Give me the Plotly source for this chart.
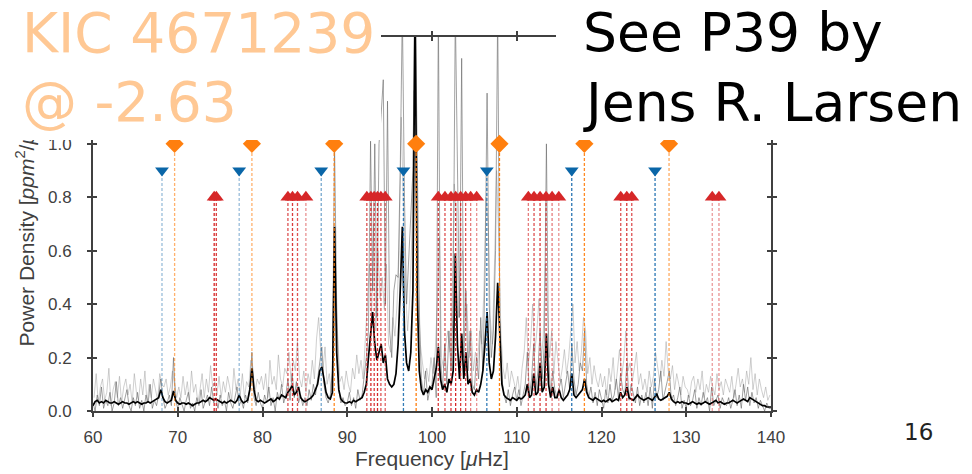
import numpy as np
import plotly.graph_objects as go

# ---------------- data ----------------
# raw power spectrum, sampled every 0.25 muHz from 60 to 140
raw_power = [
    0.03, 0.00, 0.06, 0.02, 0.09, 0.01, 0.04, 0.02, 0.07, 0.00, 0.03, 0.11, 0.02, 0.05, 0.01, 0.04, 0.08, 0.02, 0.00, 0.05,
    0.02, 0.07, 0.01, 0.04, 0.00, 0.06, 0.03, 0.10, 0.01, 0.04, 0.02, 0.06, 0.12, 0.05, 0.01, 0.03, 0.06, 0.02, 0.20, 0.04,
    0.01, 0.05, 0.02, 0.00, 0.04, 0.07, 0.01, 0.03, 0.00, 0.05, 0.02, 0.08, 0.01, 0.04, 0.06, 0.02, 0.09, 0.03, 0.05, 0.01,
    0.06, 0.02, 0.04, 0.00, 0.07, 0.03, 0.01, 0.05, 0.09, 0.02, 0.04, 0.01, 0.06, 0.03, 0.08, 0.22, 0.05, 0.02, 0.07, 0.03,
    0.01, 0.06, 0.03, 0.09, 0.02, 0.05, 0.00, 0.07, 0.04, 0.10, 0.03, 0.06, 0.12, 0.04, 0.14, 0.05, 0.11, 0.03, 0.06, 0.02,
    0.05, 0.02, 0.08, 0.04, 0.10, 0.06, 0.12, 0.20, 0.24, 0.10, 0.05, 0.03, 0.06, 0.15, 1.00, 0.40, 0.08, 0.03, 0.05, 0.02,
    0.03, 0.07, 0.02, 0.05, 0.01, 0.08, 0.04, 0.06, 0.12, 0.20, 0.30, 1.01, 0.45, 1.00, 0.35, 1.00, 1.11, 1.24, 0.40, 1.16,
    0.30, 0.20, 0.45, 0.51, 0.50, 0.90, 1.50, 0.80, 0.40, 0.55, 0.70, 0.90, 1.60, 0.90, 0.35, 0.12, 0.06, 0.15, 0.04, 0.08,
    0.10, 0.20, 0.05, 1.50, 0.20, 0.08, 0.25, 0.10, 0.30, 0.15, 0.40, 1.50, 0.85, 0.35, 1.32, 0.20, 0.45, 0.15, 0.30, 0.10,
    0.08, 0.20, 0.12, 0.35, 0.15, 0.50, 1.19, 0.40, 0.20, 0.30, 0.60, 1.50, 0.35, 0.12, 0.06, 0.03, 0.08, 0.02, 0.06, 0.09,
    0.04, 0.08, 0.02, 0.06, 0.10, 0.22, 0.06, 0.12, 0.25, 0.08, 0.15, 0.30, 0.12, 0.25, 1.00, 0.20, 0.06, 0.15, 0.08, 0.05,
    0.09, 0.12, 0.05, 0.10, 0.15, 0.08, 0.25, 0.12, 0.06, 0.10, 0.18, 0.15, 0.30, 0.10, 0.05, 0.09, 0.03, 0.07, 0.02, 0.08,
    0.05, 0.01, 0.08, 0.03, 0.10, 0.04, 0.06, 0.12, 0.05, 0.14, 0.08, 0.06, 0.18, 0.04, 0.10, 0.07, 0.03, 0.09, 0.02, 0.06,
    0.03, 0.07, 0.02, 0.09, 0.01, 0.12, 0.05, 0.08, 0.15, 0.04, 0.07, 0.11, 0.15, 0.04, 0.06, 0.02, 0.05, 0.09, 0.01, 0.04,
    0.01, 0.06, 0.02, 0.04, 0.08, 0.01, 0.05, 0.02, 0.07, 0.03, 0.05, 0.00, 0.09, 0.02, 0.04, 0.06, 0.01, 0.05, 0.03, 0.02,
    0.05, 0.01, 0.04, 0.08, 0.02, 0.06, 0.01, 0.10, 0.04, 0.09, 0.02, 0.07, 0.03, 0.05, 0.01, 0.04, 0.02, 0.00, 0.03, 0.01,
    0.01,
]

# second (interleaved) raw spectrum, sampled every 0.25 muHz from 60.125 to 139.875
raw_power_b = [
    0.05, 0.14, 0.03, 0.09, 0.12, 0.04, 0.07, 0.16, 0.02, 0.08, 0.11, 0.05, 0.13, 0.03, 0.09, 0.12, 0.06, 0.10, 0.03, 0.14,
    0.07, 0.04, 0.12, 0.06, 0.15, 0.03, 0.10, 0.05, 0.12, 0.08, 0.04, 0.14, 0.10, 0.09, 0.12, 0.06, 0.09, 0.15, 0.10, 0.05,
    0.09, 0.05, 0.13, 0.06, 0.11, 0.04, 0.15, 0.07, 0.10, 0.03, 0.08, 0.14, 0.05, 0.12, 0.07, 0.17, 0.09, 0.11, 0.06, 0.13,
    0.05, 0.11, 0.07, 0.13, 0.09, 0.04, 0.16, 0.08, 0.12, 0.06, 0.14, 0.05, 0.11, 0.09, 0.19, 0.15, 0.07, 0.12, 0.10, 0.13,
    0.08, 0.14, 0.05, 0.19, 0.10, 0.13, 0.08, 0.21, 0.12, 0.09, 0.16, 0.14, 0.22, 0.11, 0.19, 0.15, 0.26, 0.12, 0.09, 0.15,
    0.07, 0.14, 0.10, 0.19, 0.12, 0.27, 0.35, 0.22, 0.15, 0.24, 0.10, 0.14, 0.07, 0.20, 0.45, 0.30, 0.11, 0.13, 0.08, 0.15,
    0.10, 0.07, 0.16, 0.12, 0.21, 0.14, 0.19, 0.12, 0.28, 0.40, 0.55, 0.35, 0.70, 0.30, 0.60, 0.42, 0.50, 0.38, 0.55, 0.25,
    0.22, 0.35, 0.28, 0.40, 0.60, 1.10, 0.75, 0.45, 0.30, 0.42, 0.65, 1.20, 0.80, 0.50, 0.25, 0.18, 0.12, 0.16, 0.11, 0.20,
    0.14, 0.22, 0.40, 0.65, 0.20, 0.16, 0.25, 0.30, 0.22, 0.40, 0.85, 0.75, 0.35, 0.55, 0.60, 0.35, 0.40, 0.20, 0.30, 0.15,
    0.22, 0.18, 0.30, 0.25, 0.45, 0.80, 0.70, 0.35, 0.25, 0.55, 0.90, 0.65, 0.30, 0.16, 0.12, 0.18, 0.09, 0.15, 0.11, 0.08,
    0.13, 0.06, 0.16, 0.22, 0.35, 0.18, 0.25, 0.40, 0.22, 0.30, 0.42, 0.18, 0.28, 0.55, 0.38, 0.20, 0.30, 0.14, 0.26, 0.18,
    0.11, 0.16, 0.23, 0.14, 0.20, 0.30, 0.40, 0.18, 0.26, 0.15, 0.22, 0.35, 0.30, 0.14, 0.20, 0.10, 0.17, 0.12, 0.09, 0.14,
    0.09, 0.13, 0.06, 0.16, 0.11, 0.20, 0.08, 0.15, 0.23, 0.13, 0.19, 0.30, 0.15, 0.18, 0.11, 0.16, 0.22, 0.10, 0.14, 0.08,
    0.12, 0.07, 0.15, 0.09, 0.13, 0.22, 0.17, 0.11, 0.19, 0.13, 0.26, 0.15, 0.12, 0.17, 0.08, 0.14, 0.10, 0.06, 0.13, 0.09,
    0.08, 0.05, 0.11, 0.13, 0.07, 0.12, 0.08, 0.15, 0.05, 0.10, 0.07, 0.13, 0.09, 0.06, 0.14, 0.08, 0.11, 0.06, 0.12, 0.09,
    0.07, 0.13, 0.05, 0.10, 0.16, 0.09, 0.12, 0.07, 0.15, 0.10, 0.20, 0.08, 0.14, 0.06, 0.12, 0.08, 0.05, 0.09, 0.04, 0.06,
]

# smoothed power spectrum, same grid as raw_power
smooth_power = [
    0.02, 0.035, 0.04, 0.03, 0.035, 0.03, 0.04, 0.035, 0.03, 0.03, 0.035, 0.03, 0.025, 0.03, 0.035, 0.03, 0.03, 0.025, 0.03, 0.035,
    0.03, 0.035, 0.03, 0.025, 0.03, 0.03, 0.035, 0.03, 0.035, 0.04, 0.045, 0.05, 0.08, 0.05, 0.035, 0.03, 0.035, 0.04, 0.075, 0.04,
    0.03, 0.025, 0.03, 0.03, 0.025, 0.03, 0.025, 0.02, 0.025, 0.03, 0.03, 0.035, 0.04, 0.035, 0.04, 0.05, 0.045, 0.04, 0.045, 0.04,
    0.035, 0.03, 0.035, 0.03, 0.035, 0.04, 0.035, 0.03, 0.04, 0.06, 0.04, 0.03, 0.035, 0.04, 0.08, 0.16, 0.08, 0.04, 0.035, 0.04,
    0.035, 0.03, 0.035, 0.04, 0.045, 0.035, 0.04, 0.05, 0.045, 0.06, 0.055, 0.05, 0.07, 0.08, 0.095, 0.06, 0.07, 0.09, 0.05, 0.04,
    0.035, 0.04, 0.045, 0.05, 0.06, 0.08, 0.10, 0.15, 0.165, 0.12, 0.07, 0.05, 0.045, 0.07, 0.69, 0.22, 0.08, 0.045, 0.035, 0.03,
    0.03, 0.035, 0.03, 0.04, 0.035, 0.04, 0.045, 0.05, 0.07, 0.10, 0.20, 0.30, 0.37, 0.25, 0.19, 0.22, 0.25, 0.18, 0.21, 0.12,
    0.10, 0.09, 0.10, 0.14, 0.25, 0.45, 0.69, 0.30, 0.18, 0.15, 0.22, 0.45, 1.55, 0.45, 0.15, 0.08, 0.06, 0.08, 0.07, 0.09,
    0.08, 0.12, 0.16, 0.24, 0.12, 0.08, 0.10, 0.07, 0.12, 0.10, 0.15, 0.59, 0.25, 0.12, 0.29, 0.12, 0.22, 0.10, 0.12, 0.07,
    0.06, 0.08, 0.07, 0.10, 0.15, 0.25, 0.37, 0.18, 0.12, 0.15, 0.28, 0.48, 0.30, 0.10, 0.06, 0.05, 0.045, 0.04, 0.05, 0.045,
    0.04, 0.05, 0.045, 0.05, 0.06, 0.10, 0.05, 0.06, 0.14, 0.06, 0.07, 0.18, 0.07, 0.09, 0.29, 0.10, 0.05, 0.09, 0.05, 0.05,
    0.08, 0.05, 0.04, 0.05, 0.06, 0.08, 0.14, 0.06, 0.05, 0.06, 0.07, 0.08, 0.12, 0.07, 0.05, 0.045, 0.04, 0.05, 0.045, 0.04,
    0.035, 0.04, 0.035, 0.04, 0.045, 0.035, 0.04, 0.045, 0.04, 0.07, 0.05, 0.06, 0.09, 0.05, 0.045, 0.04, 0.05, 0.06, 0.05, 0.045,
    0.04, 0.045, 0.05, 0.045, 0.04, 0.05, 0.065, 0.045, 0.04, 0.045, 0.05, 0.055, 0.07, 0.045, 0.035, 0.03, 0.035, 0.03, 0.035, 0.03,
    0.03, 0.025, 0.03, 0.035, 0.03, 0.025, 0.03, 0.025, 0.03, 0.035, 0.03, 0.025, 0.03, 0.035, 0.04, 0.03, 0.035, 0.03, 0.025, 0.03,
    0.03, 0.035, 0.04, 0.035, 0.03, 0.035, 0.04, 0.045, 0.04, 0.035, 0.05, 0.045, 0.04, 0.035, 0.03, 0.025, 0.02, 0.02, 0.015, 0.015,
    0.015,
]

freq_min, freq_max = 60, 140
freq = np.linspace(freq_min, freq_max, len(raw_power))
freq_b = np.linspace(freq_min + 0.125, freq_max - 0.125, len(raw_power_b))

# mode frequencies (muHz)
blue_modes = [68.14, 77.25, 86.93, 96.63, 106.47, 116.49, 126.32]
blue_level = 0.9
blue_alpha = [0.45, 0.45, 0.6, 0.9, 0.9, 0.95, 0.95]

orange_modes = [69.63, 78.75, 88.46, 98.13, 107.96, 117.98, 127.97]
orange_level = 1.0
orange_alpha = [0.6, 0.6, 0.9, 1.0, 1.0, 0.9, 0.65]

red_modes = [74.30, 74.55,
             83.00, 83.54, 84.13, 85.12,
             92.31, 92.79, 93.18, 93.57, 93.97, 94.48,
             100.74, 101.53, 102.24, 102.79, 103.38, 103.97, 104.56, 105.27,
             111.37, 112.04, 112.75, 113.46, 114.17, 114.96,
             122.27, 122.98, 123.57,
             133.07, 133.86]
red_level = 0.8
red_alpha = [1.0, 0.9,
             0.8, 0.9, 0.8, 0.5,
             0.8, 1.0, 0.9, 1.0, 0.8, 0.7,
             0.9, 0.8, 0.9, 1.0, 0.9, 0.8, 0.6, 0.5,
             0.6, 0.8, 0.9, 0.9, 0.6, 0.5,
             0.8, 0.9, 0.8,
             0.45, 0.5]

x_ticks = [60, 70, 80, 90, 100, 110, 120, 130, 140]
y_ticks = [0.0, 0.2, 0.4, 0.6, 0.8, 1.0, 1.2, 1.4]

# ---------------- figure ----------------
PAGE_OFF = 8                      # default body margin of the html page
W, H = 972 - PAGE_OFF, 474 - PAGE_OFF
ML, MR, MT, MB = 93 - PAGE_OFF, 201, 37 - PAGE_OFF, 63
PW, PH = W - ML - MR, H - MT - MB

def px_x(p):                      # page pixel -> paper x
    return (p - PAGE_OFF - ML) / PW

def px_y(p):                      # page pixel -> paper y
    return (H - MB - (p - PAGE_OFF)) / PH

AX = "#404040"
BLUE_L, BLUE_M = "#1f6fb0", "#0a66a8"
ORANGE = "#ff7f0e"
RED = "#d62728"

fig = go.Figure()

fig.add_trace(go.Scatter(x=freq_b, y=raw_power_b, mode="lines",
                         line=dict(color="rgba(160,160,160,0.5)", width=1),
                         hoverinfo="skip", showlegend=False))
fig.add_trace(go.Scatter(x=freq, y=raw_power, mode="lines",
                         line=dict(color="rgba(100,100,100,0.6)", width=1),
                         hoverinfo="skip", showlegend=False))
fig.add_trace(go.Scatter(x=freq, y=smooth_power, mode="lines",
                         line=dict(color="black", width=1.7),
                         hoverinfo="skip", showlegend=False))

def vlines(modes, level, alphas, color):
    for f, a in zip(modes, alphas):
        fig.add_trace(go.Scatter(x=[f, f], y=[0, level], mode="lines",
                                 line=dict(color=color, width=1.3, dash="3px,2px"),
                                 opacity=a, hoverinfo="skip", showlegend=False))

vlines(blue_modes, blue_level, blue_alpha, BLUE_L)
vlines(orange_modes, orange_level, orange_alpha, ORANGE)
vlines(red_modes, red_level, red_alpha, RED)

fig.add_trace(go.Scatter(x=blue_modes, y=[blue_level] * len(blue_modes), mode="markers",
                         marker=dict(symbol="triangle-down", size=12, color=BLUE_M),
                         hoverinfo="skip", showlegend=False))
fig.add_trace(go.Scatter(x=red_modes, y=[red_level] * len(red_modes), mode="markers",
                         marker=dict(symbol="triangle-up", size=13, color=RED),
                         hoverinfo="skip", showlegend=False))
fig.add_trace(go.Scatter(x=orange_modes, y=[orange_level] * len(orange_modes), mode="markers",
                         marker=dict(symbol="diamond", size=14, color=ORANGE),
                         hoverinfo="skip", showlegend=False))

# empty trace for the overlay axes (inner half of crossing ticks)
fig.add_trace(go.Scatter(x=[None], y=[None], xaxis="x2", yaxis="y2",
                         showlegend=False, hoverinfo="skip"))

common = dict(showline=True, linewidth=2, linecolor=AX, mirror="ticks",
              ticklen=4, tickwidth=2, tickcolor=AX, showgrid=False, zeroline=False)

fig.update_layout(
    width=W, height=H,
    margin=dict(l=ML, r=MR, t=MT, b=MB, autoexpand=False),
    paper_bgcolor="white", plot_bgcolor="white",
    showlegend=False,
    font=dict(family="Liberation Sans, Arial, sans-serif", color=AX),
    xaxis=dict(range=[freq_min, freq_max], tickvals=x_ticks, ticks="outside",
               tickfont=dict(size=17, color=AX), ticklabelstandoff=6,
               title=dict(text="Frequency [<i>μ</i>Hz]", font=dict(size=21, color=AX), standoff=4),
               **common),
    yaxis=dict(range=[0, 1.4], tickvals=y_ticks, tickformat=".1f", ticks="outside",
               tickfont=dict(size=17, color=AX), ticklabelstandoff=12,
               title=dict(text="Power Density [<i>ppm</i><sup>2</sup>/<i>μ</i>Hz]",
                          font=dict(size=21, color=AX), standoff=8),
               **common),
    xaxis2=dict(range=[freq_min, freq_max], tickvals=x_ticks, ticks="inside", overlaying="x",
                anchor="y2", showticklabels=False, **common),
    yaxis2=dict(range=[0, 1.4], tickvals=y_ticks, ticks="inside", overlaying="y",
                anchor="x2", showticklabels=False, **common),
)

annotations = []
# white text-box backgrounds of the slide (cover the top of the chart)
annotations.append(dict(x=px_x(0), y=px_y(0), xref="paper", yref="paper",
                        xanchor="left", yanchor="top", text=" ", showarrow=False,
                        width=381, height=140, bgcolor="white", borderpad=0, borderwidth=0))
annotations.append(dict(x=px_x(556), y=px_y(0), xref="paper", yref="paper",
                        xanchor="left", yanchor="top", text=" ", showarrow=False,
                        width=420, height=140, bgcolor="white", borderpad=0, borderwidth=0))

TITLE_FONT = "DejaVu Sans"
PEACH = "#FFC894"
for txt, x, y, col, sz in [("KIC 4671239", 20, 33, PEACH, 55), ("@ -2.63", 20, 102, PEACH, 55),
                           ("See P39 by", 581, 33, "black", 53.5), ("Jens R. Larsen", 581, 102, "black", 53.5)]:
    annotations.append(dict(x=px_x(x), y=px_y(y), xref="paper", yref="paper",
                            xanchor="left", yanchor="middle", text=txt, showarrow=False,
                            font=dict(family=TITLE_FONT, size=sz, color=col)))
annotations.append(dict(x=px_x(918), y=px_y(432), xref="paper", yref="paper",
                        xanchor="center", yanchor="middle", text="16", showarrow=False,
                        font=dict(family=TITLE_FONT, size=23, color="#222222")))
fig.update_layout(annotations=annotations)

fig.write_html("out.html")
